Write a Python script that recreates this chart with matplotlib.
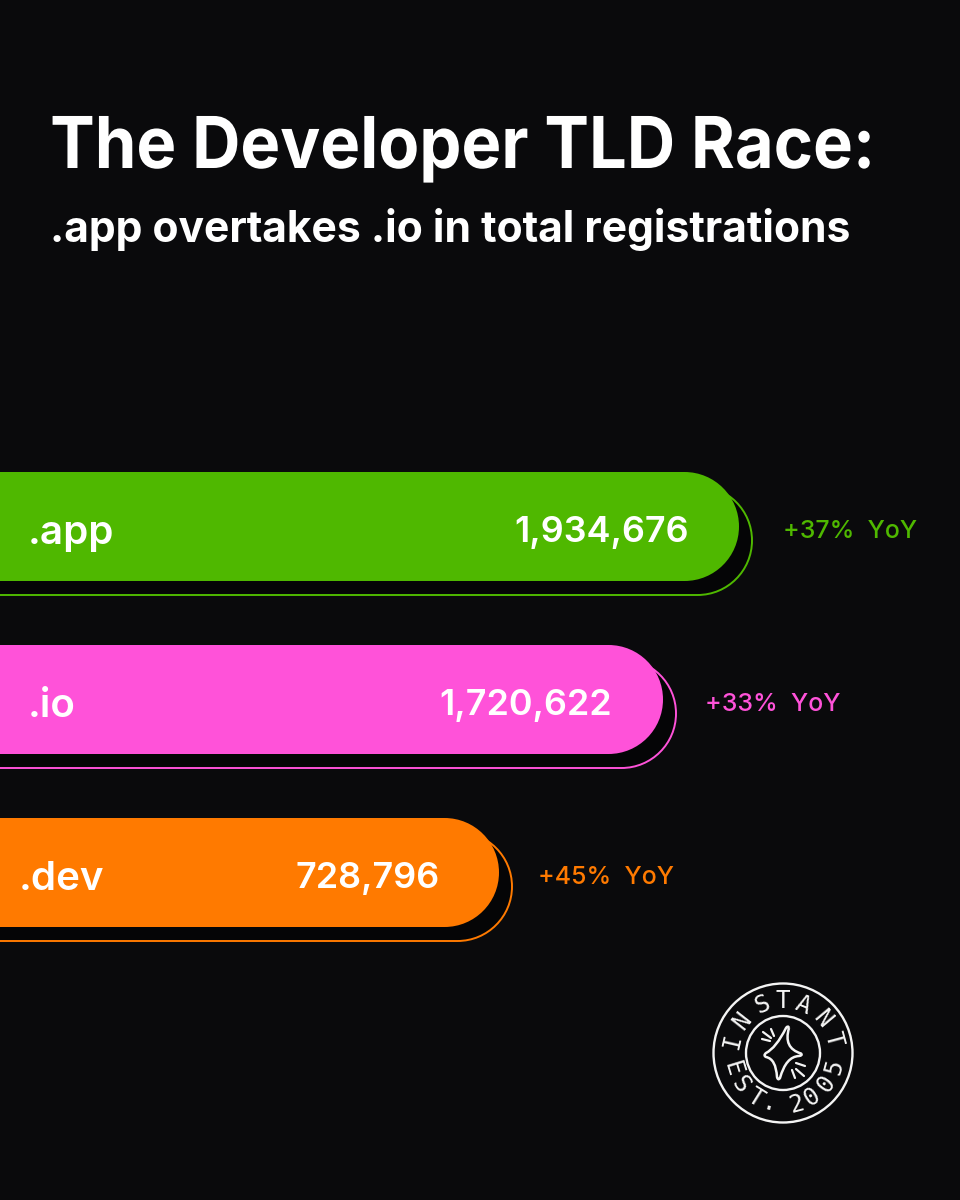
import numpy as np
import matplotlib
matplotlib.use("Agg")
import matplotlib.pyplot as plt
from matplotlib.path import Path
from matplotlib.patches import PathPatch, Circle
from matplotlib.patheffects import AbstractPathEffect
from matplotlib.transforms import Affine2D

tlds = [".app", ".io", ".dev"]
registrations = ["1,934,676", "1,720,622", "728,796"]
yoy = ["+37%  YoY", "+33%  YoY", "+45%  YoY"]
# the bars in the picture are not to scale, lengths are read in pixels
bar_lengths = [739, 663, 499]
colors = ["#4FB800", "#FF52D9", "#FF7A00"]

bg = "#0A0A0C"
ink = "#F4F4F4"
plt.rcParams["font.family"] = ["Inter", "DejaVu Sans"]


class Squeeze(AbstractPathEffect):
    # title is set tighter than plain Inter
    def __init__(self, sx, x0):
        super().__init__()
        self.sx = sx
        self.x0 = x0

    def draw_path(self, renderer, gc, tpath, affine, rgbFace=None):
        t = affine + Affine2D().translate(-self.x0, 0).scale(self.sx, 1).translate(self.x0, 0)
        renderer.draw_path(gc, tpath, t, rgbFace)


def pill(end, top, h):
    # bar open on the left, round on the right
    r = h / 2
    k = 0.5523 * r
    verts = [(-10, top), (end - r, top),
             (end - r + k, top), (end, top + r - k), (end, top + r),
             (end, top + r + k), (end - r + k, top + h), (end - r, top + h),
             (-10, top + h), (-10, top)]
    codes = [Path.MOVETO, Path.LINETO,
             Path.CURVE4, Path.CURVE4, Path.CURVE4,
             Path.CURVE4, Path.CURVE4, Path.CURVE4,
             Path.LINETO, Path.CLOSEPOLY]
    return Path(verts, codes)


fig = plt.figure(figsize=(9.6, 12), dpi=100, facecolor=bg)
ax = fig.add_axes([0, 0, 1, 1])
ax.set_xlim(0, 960)
ax.set_ylim(1200, 0)
ax.axis("off")

ax.text(50, 168, "The Developer TLD Race:", color="white", fontsize=51.5,
        fontweight="bold", va="baseline", path_effects=[Squeeze(0.935, 52)])
ax.text(50, 242, ".app overtakes .io in total registrations", color="white",
        fontsize=30.7, fontweight="bold", va="baseline")

tops = [472, 645, 818]
label_x = [28, 28, 19]
value_right = [689, 612, 440]
yoy_x = [783, 705, 538]
for i in range(3):
    end = bar_lengths[i]
    top = tops[i]
    ax.add_patch(PathPatch(pill(end + 13, top + 14, 109), facecolor="#050506",
                           edgecolor=colors[i], lw=1.4, zorder=1))
    ax.add_patch(PathPatch(pill(end, top, 109), facecolor=colors[i],
                           edgecolor="none", zorder=2))
    ax.text(label_x[i], top + 72, tlds[i], color="white", fontsize=29,
            fontweight="semibold", zorder=3)
    ax.text(value_right[i], top + 70, registrations[i], color="white", fontsize=25.9,
            fontweight="semibold", ha="right", zorder=3)
    ax.text(yoy_x[i], top + 66, yoy[i], color=colors[i], fontsize=17.9,
            fontweight="medium", zorder=3)

# stamp in the bottom right
cx, cy = 783, 1053
ax.add_patch(Circle((cx, cy), 69.5, fill=False, ec=ink, lw=1.7))
ax.add_patch(Circle((cx, cy), 37, fill=False, ec=ink, lw=1.7))

top_letters = list("INSTANT")
top_angles = [-77, -52, -23, 0, 22, 50, 75]
for ch, a in zip(top_letters, top_angles):
    t = np.radians(a)
    ax.text(cx + 52 * np.sin(t), cy - 52 * np.cos(t), ch, color=ink,
            fontsize=17.5, family="DejaVu Sans Mono",
            rotation=-a, ha="center", va="center", rotation_mode="anchor")

bottom_letters = list("EST.2005")
bottom_angles = [-73, -53, -32, -15, 15, 33, 54, 75]
for ch, a in zip(bottom_letters, bottom_angles):
    t = np.radians(a)
    ax.text(cx + 53 * np.sin(t), cy + 53 * np.cos(t), ch, color=ink,
            fontsize=17.5, family="DejaVu Sans Mono",
            rotation=a, ha="center", va="center", rotation_mode="anchor")

star = [(6, -25), (0, -5), (18, 0.5), (20, 2.5), (16, 3), (3, 3.5), (-3, 25),
        (-5, 28), (-6, 24), (-7, 6), (-17, 4), (-20, 2.5), (-17, 0), (-7, -5),
        (3, -25), (5, -28), (6, -25)]
star_verts = [(cx + x, cy + y) for x, y in star]
star_codes = [Path.MOVETO] + [Path.CURVE3] * 16
ax.add_patch(PathPatch(Path(star_verts, star_codes), fill=False, ec=ink,
                       lw=1.8, joinstyle="round"))
rays = [((-21, -14), (-13, -12)), ((-20, -21), (-12, -15)), ((-12, -24), (-9, -17)),
        ((13, 10), (22, 13)), ((13, 16), (21, 23)), ((9, 17), (12, 25))]
for p, q in rays:
    ax.plot([cx + p[0], cx + q[0]], [cy + p[1], cy + q[1]], color=ink, lw=1.6,
            solid_capstyle="round")

fig.savefig("out.png", dpi=100, facecolor=bg)
